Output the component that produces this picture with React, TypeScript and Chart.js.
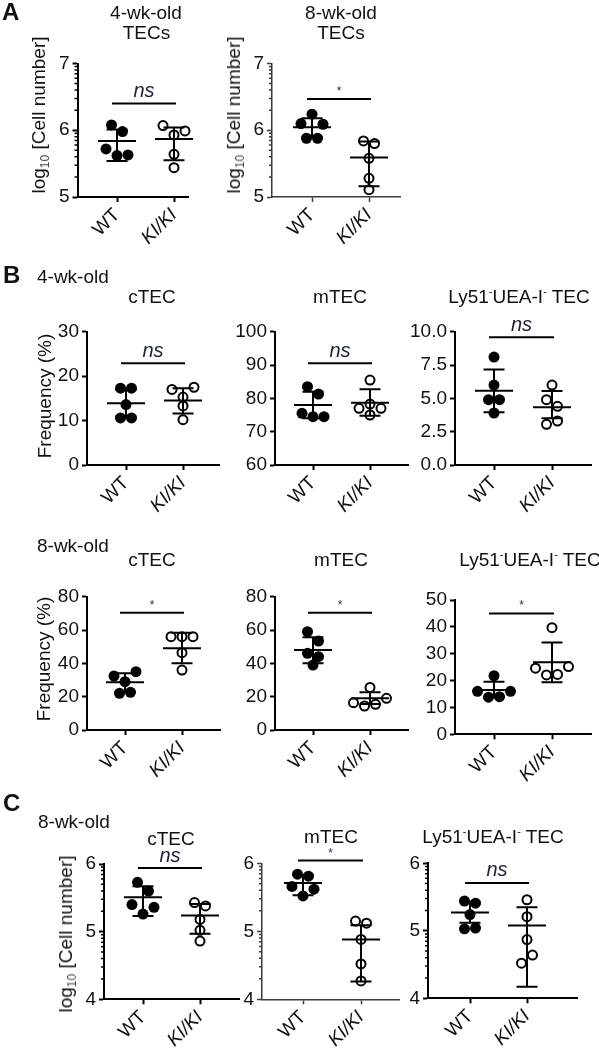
import React, { useEffect, useRef } from 'react';
import { Chart, registerables } from 'chart.js';

Chart.register(...registerables);

const FONT = '"Liberation Sans", Arial, Helvetica, sans-serif';

const groupLabels = ['WT', 'KI/KI'];

// ---------- A: 4-wk-old TECs (log10 cell number)
const a1Ticks = [5, 6, 7];
const a1WT = [6.08, 5.98, 5.62, 5.72, 5.63];
const a1KI = [5.93, 6.07, 5.99, 5.64, 5.44];
const a1Mean = [5.84, 5.87];
const a1Upper = [6.01, 6.04];
const a1Lower = [5.54, 5.55];
const a1Sig = 6.4;

// ---------- A: 8-wk-old TECs
const a2Ticks = [5, 6, 7];
const a2WT = [6.24, 6.1, 6.09, 5.88, 5.88];
const a2KI = [5.84, 5.8, 5.58, 5.28, 5.11];
const a2Mean = [6.045, 5.59];
const a2Upper = [6.18, 5.83];
const a2Lower = [5.9, 5.16];
const a2Sig = 6.47;

// ---------- B: 4-wk-old frequencies
const b1Ticks = [0, 10, 20, 30];
const b1WT = [17.3, 17.3, 13.6, 10.6, 10.6];
const b1KI = [15.3, 17.0, 17.5, 13.3, 10.2];
const b1Mean = [13.9, 14.5];
const b1Upper = [16.9, 17.3];
const b1Lower = [10.9, 11.6];
const b1Sig = 22.9;

const b2Ticks = [60, 70, 80, 90, 100];
const b2WT = [83.5, 81.3, 74.5, 75.5, 74.5];
const b2KI = [85.5, 78.3, 77.0, 77.0, 75.0];
const b2Mean = [78.0, 78.7];
const b2Upper = [82.0, 82.7];
const b2Lower = [74.0, 74.8];
const b2Sig = 90.5;

const b3Ticks = [0, 2.5, 5, 7.5, 10];
const b3WT = [8.1, 6.0, 4.9, 4.9, 3.9];
const b3KI = [6.0, 4.9, 4.4, 3.05, 3.3];
const b3Mean = [5.57, 4.33];
const b3Upper = [7.17, 5.55];
const b3Lower = [3.95, 3.5];
const b3Sig = 9.58;

// ---------- B: 8-wk-old frequencies
const b4Ticks = [0, 20, 40, 60, 80];
const b4WT = [29, 32.4, 35, 22, 22.6];
const b4KI = [56, 56, 56, 46.4, 36];
const b4Mean = [28.6, 49.0];
const b4Upper = [34.0, 58.4];
const b4Lower = [23.0, 40.0];
const b4Sig = 70.4;

const b5Ticks = [0, 20, 40, 60, 80];
const b5WT = [59, 53.4, 46, 44, 39];
const b5KI = [25.5, 14.4, 15.4, 16.4, 19.0];
const b5Mean = [48.0, 19.0];
const b5Upper = [55.6, 22.6];
const b5Lower = [40.0, 15.6];
const b5Sig = 70.4;

const b6Ticks = [0, 10, 20, 30, 40, 50];
const b6WT = [21.8, 13.8, 14.0, 16.0, 16.0];
const b6KI = [39.7, 22.1, 22.3, 24.6, 25.2];
const b6Mean = [16.5, 26.8];
const b6Upper = [19.6, 34.2];
const b6Lower = [13.8, 19.4];
const b6Sig = 45.0;

// ---------- C: 8-wk-old log10 cell numbers
const c1Ticks = [4, 5, 6];
const c1WT = [5.73, 5.6, 5.26, 5.4, 5.36];
const c1KI = [5.43, 5.38, 5.18, 5.02, 4.86];
const c1Mean = [5.51, 5.24];
const c1Upper = [5.67, 5.41];
const c1Lower = [5.23, 4.97];
const c1Sig = 5.94;

const c2Ticks = [4, 5, 6];
const c2WT = [5.84, 5.81, 5.52, 5.66, 5.62];
const c2KI = [5.15, 5.12, 4.88, 4.52, 4.27];
const c2Mean = [5.71, 4.88];
const c2Upper = [5.83, 5.09];
const c2Lower = [5.53, 4.26];
const c2Sig = 6.04;

const c3Ticks = [4, 5, 6];
const c3WT = [5.44, 5.41, 5.24, 5.03, 5.04];
const c3KI = [5.46, 5.21, 4.87, 4.52, 4.64];
const c3Mean = [5.27, 5.08];
const c3Upper = [5.43, 5.35];
const c3Lower = [5.12, 4.17];
const c3Sig = 5.71;

type Layout = { axisX: number; wtX: number; kiX: number; rightX: number; topY: number; bottomY: number };
type Panel = {
  key: string; ticks: number[]; wt: number[]; ki: number[];
  mean: number[]; upper: number[]; lower: number[];
  sig: number; sigText: string; log: boolean; decimals: number;
  axisColor: string; axisWidth: number; layout: Layout;
};

const BLACK = '#000';
const GREY = '#3a3a3a';

const panels: Panel[] = [
  { key: 'a1', ticks: a1Ticks, wt: a1WT, ki: a1KI, mean: a1Mean, upper: a1Upper, lower: a1Lower, sig: a1Sig, sigText: 'ns', log: true, decimals: 0, axisColor: BLACK, axisWidth: 2,
    layout: { axisX: 77.5, wtX: 117, kiX: 174, rightX: 188, topY: 63.5, bottomY: 197 } },
  { key: 'a2', ticks: a2Ticks, wt: a2WT, ki: a2KI, mean: a2Mean, upper: a2Upper, lower: a2Lower, sig: a2Sig, sigText: '*', log: true, decimals: 0, axisColor: GREY, axisWidth: 1.5,
    layout: { axisX: 272, wtX: 312, kiX: 369, rightX: 400, topY: 63.5, bottomY: 197 } },
  { key: 'b1', ticks: b1Ticks, wt: b1WT, ki: b1KI, mean: b1Mean, upper: b1Upper, lower: b1Lower, sig: b1Sig, sigText: 'ns', log: false, decimals: 0, axisColor: BLACK, axisWidth: 2,
    layout: { axisX: 87, wtX: 126, kiX: 183, rightX: 219, topY: 331.7, bottomY: 465 } },
  { key: 'b2', ticks: b2Ticks, wt: b2WT, ki: b2KI, mean: b2Mean, upper: b2Upper, lower: b2Lower, sig: b2Sig, sigText: 'ns', log: false, decimals: 0, axisColor: BLACK, axisWidth: 2,
    layout: { axisX: 275, wtX: 313, kiX: 370, rightX: 408, topY: 331.7, bottomY: 465 } },
  { key: 'b3', ticks: b3Ticks, wt: b3WT, ki: b3KI, mean: b3Mean, upper: b3Upper, lower: b3Lower, sig: b3Sig, sigText: 'ns', log: false, decimals: 1, axisColor: BLACK, axisWidth: 2,
    layout: { axisX: 455, wtX: 494, kiX: 552, rightX: 591, topY: 331.7, bottomY: 465 } },
  { key: 'b4', ticks: b4Ticks, wt: b4WT, ki: b4KI, mean: b4Mean, upper: b4Upper, lower: b4Lower, sig: b4Sig, sigText: '*', log: false, decimals: 0, axisColor: BLACK, axisWidth: 2,
    layout: { axisX: 87, wtX: 125, kiX: 182, rightX: 220, topY: 596.7, bottomY: 730 } },
  { key: 'b5', ticks: b5Ticks, wt: b5WT, ki: b5KI, mean: b5Mean, upper: b5Upper, lower: b5Lower, sig: b5Sig, sigText: '*', log: false, decimals: 0, axisColor: BLACK, axisWidth: 2,
    layout: { axisX: 275, wtX: 313, kiX: 370, rightX: 408, topY: 596.7, bottomY: 730 } },
  { key: 'b6', ticks: b6Ticks, wt: b6WT, ki: b6KI, mean: b6Mean, upper: b6Upper, lower: b6Lower, sig: b6Sig, sigText: '*', log: false, decimals: 0, axisColor: BLACK, axisWidth: 2,
    layout: { axisX: 455, wtX: 494, kiX: 552, rightX: 591, topY: 600, bottomY: 734.3 } },
  { key: 'c1', ticks: c1Ticks, wt: c1WT, ki: c1KI, mean: c1Mean, upper: c1Upper, lower: c1Lower, sig: c1Sig, sigText: 'ns', log: true, decimals: 0, axisColor: BLACK, axisWidth: 2,
    layout: { axisX: 104, wtX: 143, kiX: 200, rightX: 239, topY: 864, bottomY: 999.3 } },
  { key: 'c2', ticks: c2Ticks, wt: c2WT, ki: c2KI, mean: c2Mean, upper: c2Upper, lower: c2Lower, sig: c2Sig, sigText: '*', log: true, decimals: 0, axisColor: GREY, axisWidth: 1.5,
    layout: { axisX: 262, wtX: 303, kiX: 361, rightX: 399, topY: 863.3, bottomY: 999.3 } },
  { key: 'c3', ticks: c3Ticks, wt: c3WT, ki: c3KI, mean: c3Mean, upper: c3Upper, lower: c3Lower, sig: c3Sig, sigText: 'ns', log: true, decimals: 0, axisColor: BLACK, axisWidth: 2,
    layout: { axisX: 428, wtX: 470, kiX: 527, rightX: 577, topY: 863.3, bottomY: 998.3 } },
];

const YW = 62;
const XH = 80;
const PT = 48;
const PR = 16;
const ROW_PX = 10.5;
const SPACING = 11;

function geom(L: Layout) {
  const left = Math.floor(L.axisX) - YW;
  const top = Math.floor(L.topY) - PT;
  const width = Math.ceil(L.rightX - left) + PR;
  const height = Math.ceil(L.bottomY - top) + XH;
  return {
    left, top, width, height,
    pad: {
      left: L.axisX - left - YW,
      top: L.topY - top,
      right: width - (L.rightX - left),
      bottom: height - XH - (L.bottomY - top),
    },
  };
}

// GraphPad-like scatter: points closer than ROW_PX vertically share a row and are spread symmetrically
function swarm(values: number[], pxPerY: number, pxPerX: number): number[] {
  const order = values.map((_, i) => i).sort((a, b) => values[b] - values[a] || a - b);
  const rows: number[][] = [];
  let cur: number[] = [];
  let start = 0;
  for (const i of order) {
    if (cur.length && (start - values[i]) * pxPerY < ROW_PX) cur.push(i);
    else {
      if (cur.length) rows.push(cur);
      cur = [i];
      start = values[i];
    }
  }
  if (cur.length) rows.push(cur);
  const out = new Array(values.length).fill(0);
  for (const row of rows) {
    row.sort((a, b) => a - b);
    const slots = row.length % 2 ? [0, -1, 1, -2, 2, -3, 3] : [-0.5, 0.5, -1.5, 1.5, -2.5, 2.5];
    row.forEach((i, k) => { out[i] = (slots[k] * SPACING) / pxPerX; });
  }
  return out;
}

function overlayPlugin(p: Panel) {
  return {
    id: 'overlay_' + p.key,
    afterDatasetsDraw(chart: any) {
      const { ctx, chartArea } = chart;
      const xs = chart.scales.x;
      const ys = chart.scales.y;
      ctx.save();
      ctx.strokeStyle = '#000';
      ctx.lineWidth = 2;
      ctx.lineCap = 'butt';
      [0, 1].forEach((g) => {
        const px = xs.getPixelForValue(g + 1);
        const yc = ys.getPixelForValue(p.mean[g]);
        const yh = ys.getPixelForValue(p.upper[g]);
        const yl = ys.getPixelForValue(p.lower[g]);
        ctx.beginPath();
        ctx.moveTo(px, yh); ctx.lineTo(px, yl);
        ctx.moveTo(px - 10.5, yh); ctx.lineTo(px + 10.5, yh);
        ctx.moveTo(px - 10.5, yl); ctx.lineTo(px + 10.5, yl);
        ctx.moveTo(px - 19, yc); ctx.lineTo(px + 19, yc);
        ctx.stroke();
      });
      const x1 = xs.getPixelForValue(1) - 5;
      const x2 = xs.getPixelForValue(2) + 2;
      const ysig = ys.getPixelForValue(p.sig);
      ctx.beginPath();
      ctx.moveTo(x1, ysig); ctx.lineTo(x2, ysig);
      ctx.stroke();
      ctx.textAlign = 'center';
      ctx.textBaseline = 'alphabetic';
      if (p.sigText === 'ns') {
        ctx.fillStyle = '#1b2238';
        ctx.font = `italic 20px ${FONT}`;
        ctx.fillText('ns', (x1 + x2) / 2, ysig - 6.5);
      } else {
        ctx.fillStyle = '#1e2a5a';
        ctx.font = `12px ${FONT}`;
        ctx.fillText(p.sigText, (x1 + x2) / 2, ysig - 4);
      }
      if (p.log) {
        ctx.strokeStyle = p.axisColor;
        ctx.lineWidth = 1.5;
        const lo = p.ticks[0];
        const hi = p.ticks[p.ticks.length - 1];
        ctx.beginPath();
        for (let d = lo; d < hi; d++) {
          for (let k = 2; k <= 9; k++) {
            const y = ys.getPixelForValue(d + Math.log10(k));
            ctx.moveTo(chartArea.left - 3, y);
            ctx.lineTo(chartArea.left, y);
          }
        }
        ctx.stroke();
      }
      ctx.restore();
    },
  };
}

function PanelChart({ p }: { p: Panel }) {
  const ref = useRef<HTMLCanvasElement | null>(null);
  const g = geom(p.layout);
  useEffect(() => {
    const canvas = ref.current;
    if (!canvas) return;
    const L = p.layout;
    const yMin = p.ticks[0];
    const yMax = p.ticks[p.ticks.length - 1];
    const unit = L.kiX - L.wtX;
    const pxPerY = (L.bottomY - L.topY) / (yMax - yMin);
    const xMin = 1 - (L.wtX - L.axisX) / unit;
    const xMax = 2 + (L.rightX - L.kiX) / unit;
    const wtOff = swarm(p.wt, pxPerY, unit);
    const kiOff = swarm(p.ki, pxPerY, unit);
    const gridCfg = {
      drawOnChartArea: false,
      drawTicks: true,
      tickLength: 5,
      tickWidth: p.axisWidth,
      tickColor: p.axisColor,
    };
    const chart = new Chart(canvas, {
      type: 'scatter',
      data: {
        datasets: [
          {
            data: p.wt.map((v, i) => ({ x: 1 + wtOff[i], y: v })),
            pointRadius: 5.5,
            pointBackgroundColor: '#000',
            pointBorderColor: '#000',
            pointBorderWidth: 0,
            showLine: false,
            clip: false as any,
          },
          {
            data: p.ki.map((v, i) => ({ x: 2 + kiOff[i], y: v })),
            pointRadius: 4.5,
            pointBackgroundColor: '#fff',
            pointBorderColor: '#000',
            pointBorderWidth: 2,
            showLine: false,
            clip: false as any,
          },
        ],
      },
      options: {
        animation: false,
        responsive: false,
        maintainAspectRatio: false,
        devicePixelRatio: 1,
        events: [],
        layout: { padding: g.pad, autoPadding: false } as any,
        plugins: { legend: { display: false }, tooltip: { enabled: false }, title: { display: false } },
        scales: {
          x: {
            type: 'linear',
            min: xMin,
            max: xMax,
            afterBuildTicks: (s: any) => { s.ticks = [{ value: 1 }, { value: 2 }]; },
            afterFit: (s: any) => { s.height = XH; },
            ticks: {
              autoSkip: false,
              minRotation: 45,
              maxRotation: 45,
              padding: 2,
              color: '#111',
              callback: (v: any) => groupLabels[Math.round(Number(v)) - 1] ?? '',
              font: ((c: any) => ({ family: FONT, size: 19, style: c.index === 1 ? 'italic' : 'normal' })) as any,
            },
            grid: gridCfg,
            border: { display: true, color: p.axisColor, width: p.axisWidth },
          },
          y: {
            type: 'linear',
            min: yMin,
            max: yMax,
            afterBuildTicks: (s: any) => { s.ticks = p.ticks.map((v) => ({ value: v })); },
            afterFit: (s: any) => { s.width = YW; },
            ticks: {
              padding: 3,
              color: '#111',
              font: { family: FONT, size: 19 },
              callback: (v: any) => (p.decimals ? Number(v).toFixed(p.decimals) : String(v)),
            },
            grid: gridCfg,
            border: { display: true, color: p.axisColor, width: p.axisWidth },
          },
        },
      } as any,
      plugins: [overlayPlugin(p)],
    });
    return () => chart.destroy();
  }, [p]);
  return (
    <canvas
      ref={ref}
      width={g.width}
      height={g.height}
      style={{ position: 'absolute', left: g.left, top: g.top, width: g.width, height: g.height }}
    />
  );
}

function Txt({ x, base, size = 19, center, bold, children }: any) {
  return (
    <div
      style={{
        position: 'absolute',
        left: x,
        top: base - 0.847 * size,
        fontSize: size,
        lineHeight: size + 'px',
        fontFamily: FONT,
        fontWeight: bold ? 'bold' : 'normal',
        whiteSpace: 'nowrap',
        color: '#111',
        transform: center ? 'translateX(-50%)' : undefined,
      }}
    >
      {children}
    </div>
  );
}

function YTitle({ cx, cy, children }: any) {
  return (
    <div
      style={{
        position: 'absolute',
        left: cx,
        top: cy,
        fontSize: 19,
        lineHeight: '22px',
        fontFamily: FONT,
        whiteSpace: 'nowrap',
        color: '#111',
        transform: 'translate(-50%, -50%) rotate(-90deg)',
      }}
    >
      {children}
    </div>
  );
}

const Sup = () => <span style={{ fontSize: 11, position: 'relative', top: -8 }}>-</span>;
const Sub = () => <span style={{ fontSize: 12, position: 'relative', top: 4, color: '#444' }}>10</span>;
const Ly51 = () => (<>Ly51<Sup />UEA-I<Sup /> TEC</>);
const LogTitle = () => (<>log<Sub /> [Cell number]</>);

export default function App() {
  return (
    <div style={{ position: 'absolute', left: 0, top: 0, width: 599, height: 1050, background: '#fff', overflow: 'hidden' }}>
      {panels.map((p) => <PanelChart key={p.key} p={p} />)}

      <Txt x={2} base={20} size={24} bold>A</Txt>
      <Txt x={146} base={19} center>4-wk-old</Txt>
      <Txt x={146.5} base={39} center>TECs</Txt>
      <Txt x={341} base={19} center>8-wk-old</Txt>
      <Txt x={341} base={39} center>TECs</Txt>
      <YTitle cx={40} cy={114.5}><LogTitle /></YTitle>
      <YTitle cx={235} cy={114.5}><LogTitle /></YTitle>

      <Txt x={3} base={283} size={24} bold>B</Txt>
      <Txt x={37} base={283}>4-wk-old</Txt>
      <Txt x={152} base={303} center>cTEC</Txt>
      <Txt x={340} base={303} center>mTEC</Txt>
      <Txt x={519} base={303} center><Ly51 /></Txt>
      <YTitle cx={45} cy={396}>Frequency (%)</YTitle>

      <Txt x={37} base={552}>8-wk-old</Txt>
      <Txt x={152} base={566} center>cTEC</Txt>
      <Txt x={341} base={566} center>mTEC</Txt>
      <Txt x={530} base={566} center><Ly51 /></Txt>
      <YTitle cx={43.5} cy={658.5}>Frequency (%)</YTitle>

      <Txt x={3} base={811} size={24} bold>C</Txt>
      <Txt x={38} base={828}>8-wk-old</Txt>
      <Txt x={171} base={845} center>cTEC</Txt>
      <Txt x={331} base={843} center>mTEC</Txt>
      <Txt x={493} base={843} center><Ly51 /></Txt>
      <YTitle cx={66.7} cy={933.5}><LogTitle /></YTitle>
    </div>
  );
}
